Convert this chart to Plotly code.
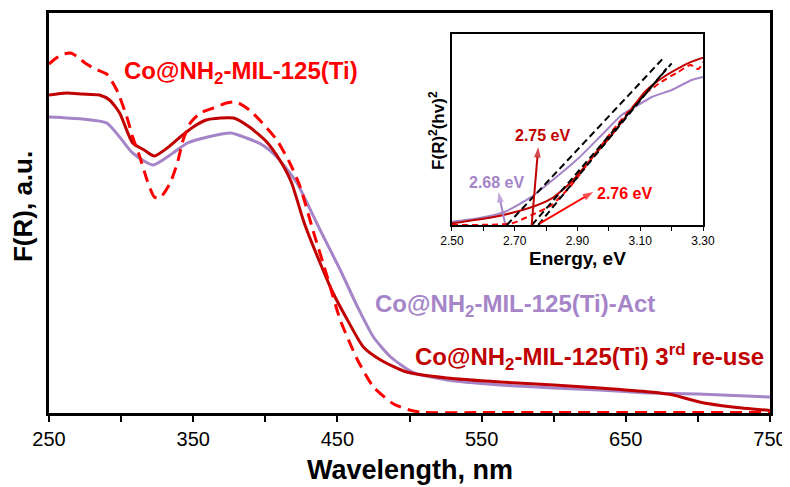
import plotly.graph_objects as go

# ---------------- main spectra (F(R), arbitrary units) ----------------
wl_co = [250, 255, 260, 265, 270, 275, 282, 290, 297, 304, 308, 313, 318, 323, 327,
         334, 339, 343, 348, 355, 364, 373, 380, 389, 398, 408, 417, 424, 433, 443,
         452, 464, 475, 489, 500, 510, 550, 600, 650, 700, 750]
fr_co = [347, 353, 357, 358, 354, 348, 342, 337, 321, 294, 274, 254, 231, 214, 213,
         228, 248, 271, 288, 298, 303, 308, 309, 301, 288, 271, 248, 225, 181, 134,
         91, 51, 24, 7, 1, -1.5, -1.5, -1.5, -1.5, -1.5, -1.5]

wl_reuse = [250, 262, 273, 285, 292, 299, 308, 316, 323, 332, 341, 350, 359, 369, 378,
            389, 401, 410, 418, 427, 438, 447, 457, 468, 480, 498, 526, 563, 600, 632,
            667, 683, 701, 724, 750]
fr_reuse = [316, 318, 317, 316, 311, 298, 268, 261, 255, 263, 274, 284, 291, 293, 293,
            284, 269, 251, 229, 188, 148, 118, 91, 64, 51, 39, 33, 29, 26, 23,
            19, 16, 9, 4, 0.5]

wl_act = [250, 273, 290, 299, 308, 322, 336, 346, 360, 376, 387, 398, 408, 417, 422,
          429, 438, 452, 464, 475, 487, 502, 526, 563, 600, 632, 667, 700, 750]
fr_act = [294, 292, 288, 274, 258, 246, 258, 268, 274, 278, 273, 266, 254, 238, 228,
          208, 181, 141, 104, 74, 54, 39, 31, 26, 23, 21, 18, 17, 14]

# ---------------- inset: Tauc plot ----------------
e_act = [2.50, 2.584, 2.669, 2.754, 2.828, 2.903, 2.977, 3.041, 3.083, 3.137, 3.200, 3.264, 3.30]
t_act = [3.3, 6.7, 13.3, 28.3, 46.7, 66.7, 90, 110, 118, 128, 135, 145, 148]

e_reuse = [2.50, 2.637, 2.743, 2.818, 2.881, 2.945, 3.009, 3.062, 3.115, 3.168, 3.221, 3.264, 3.30]
t_reuse = [1.7, 8.3, 16.7, 26.7, 43.3, 66.7, 90, 111.7, 133.3, 146.7, 156.7, 163.3, 167.3]

e_co = [2.50, 2.69, 2.754, 2.818, 2.881, 2.945, 3.009, 3.062, 3.115, 3.168, 3.221, 3.260, 3.285, 3.30]
t_co = [0, 1.7, 10, 20, 40, 66.7, 93.3, 113.3, 131, 143.3, 153, 160, 156, 163]

# tangent (band-gap) lines: x-intercept and upper end
tan_e0 = [2.675, 2.755, 2.775]
tan_e1 = [3.173, 3.200, 3.184]
tan_t1 = [166.7, 161.7, 156.7]

# band gap labels: text, text pos, arrow head, arrow tail
gap_text = ["2.68 eV", "2.75 eV", "2.76 eV"]
gap_text_e = [2.643, 2.790, 3.051]
gap_text_t = [43, 90, 32]
gap_head_e = [2.648, 2.775, 2.950]
gap_head_t = [33, 78, 33]
gap_tail_e = [2.669, 2.754, 2.780]
gap_tail_t = [1.7, 0, 1.7]

RED = "#FF0000"
DARKRED = "#C00000"
PURPLE = "#A585C8"
FONT = "Liberation Sans, Arial, sans-serif"

fig = go.Figure()

# main curves
fig.add_trace(go.Scatter(x=wl_act, y=fr_act, mode="lines", line=dict(color=PURPLE, width=3, shape="spline", smoothing=0.6),
                         showlegend=False, xaxis="x", yaxis="y"))
fig.add_trace(go.Scatter(x=wl_reuse, y=fr_reuse, mode="lines", line=dict(color=DARKRED, width=3, shape="spline", smoothing=0.6),
                         showlegend=False, xaxis="x", yaxis="y"))
fig.add_trace(go.Scatter(x=wl_co, y=fr_co, mode="lines", line=dict(color=RED, width=3, dash="12px,7px", shape="spline", smoothing=0.6),
                         showlegend=False, xaxis="x", yaxis="y"))

# inset curves
fig.add_trace(go.Scatter(x=e_act, y=t_act, mode="lines", line=dict(color=PURPLE, width=2, shape="spline", smoothing=0.6),
                         showlegend=False, xaxis="x2", yaxis="y2"))
fig.add_trace(go.Scatter(x=e_reuse, y=t_reuse, mode="lines", line=dict(color=DARKRED, width=2, shape="spline", smoothing=0.6),
                         showlegend=False, xaxis="x2", yaxis="y2"))
fig.add_trace(go.Scatter(x=e_co, y=t_co, mode="lines", line=dict(color=RED, width=2, dash="6px,4px", shape="spline", smoothing=0.6),
                         showlegend=False, xaxis="x2", yaxis="y2"))
for e0, e1, t1 in zip(tan_e0, tan_e1, tan_t1):
    fig.add_trace(go.Scatter(x=[e0, e1], y=[0, t1], mode="lines", line=dict(color="black", width=2, dash="7px,4px"),
                             showlegend=False, xaxis="x2", yaxis="y2"))

gap_colors = [PURPLE, DARKRED, RED]
# arrows: line with an arrow marker at the head
for he, ht, ae, at, c in zip(gap_head_e, gap_head_t, gap_tail_e, gap_tail_t, gap_colors):
    fig.add_trace(go.Scatter(x=[ae, he], y=[at, ht], mode="lines+markers",
                             line=dict(color=c, width=2),
                             marker=dict(symbol="arrow", angleref="previous", size=[0, 11], color=c,
                                         line=dict(width=0)),
                             showlegend=False, xaxis="x2", yaxis="y2", cliponaxis=False))

annotations = [
    dict(text="<b>Co@NH<sub>2</sub>-MIL-125(Ti)</b>", x=300.6, y=339, xref="x", yref="y", xanchor="left", yanchor="middle",
         showarrow=False, font=dict(family=FONT, size=24, color=RED)),
    dict(text="<b>Co@NH<sub>2</sub>-MIL-125(Ti)-Act</b>", x=474.7, y=106, xref="x", yref="y", xanchor="left", yanchor="middle",
         showarrow=False, font=dict(family=FONT, size=24, color=PURPLE)),
    dict(text="<b>Co@NH<sub>2</sub>-MIL-125(Ti) 3<sup>rd</sup> re-use</b>", x=502.4, y=54, xref="x", yref="y", xanchor="left",
         yanchor="middle", showarrow=False, font=dict(family=FONT, size=24, color=DARKRED)),
    dict(text="<b>F(R)<sup>2</sup>(hv)<sup>2</sup></b>", x=0.538, y=0.7075, xref="paper", yref="paper", textangle=-90,
         xanchor="center", yanchor="middle",
         showarrow=False, font=dict(family=FONT, size=17, color="black")),
    dict(text="<b>F(R), a.u.</b>", x=-0.036, y=0.515, xref="paper", yref="paper", textangle=-90,
         xanchor="center", yanchor="middle",
         showarrow=False, font=dict(family=FONT, size=26, color="black")),
    dict(text="<b>Wavelength, nm</b>", x=0.5007, y=-0.1425, xref="paper", yref="paper", xanchor="center", yanchor="middle",
         showarrow=False, font=dict(family=FONT, size=27, color="black")),
    dict(text="<b>Energy, eV</b>", x=0.733, y=(413 - 258) / 400, xref="paper", yref="paper", xanchor="center", yanchor="middle",
         showarrow=False, font=dict(family=FONT, size=19, color="black")),
]
for txt, te, tt, c in zip(gap_text, gap_text_e, gap_text_t, gap_colors):
    annotations.append(dict(text="<b>" + txt + "</b>", x=te, y=tt, xref="x2", yref="y2", showarrow=False,
                            xanchor="center", yanchor="middle",
                            font=dict(family=FONT, size=16, color=c)))

# the page body adds an 8 px offset, so the figure is 8 px smaller and margins shifted
fig.update_layout(
    width=782, height=479,
    margin=dict(l=41, r=20, t=5, b=74, autoexpand=False),
    paper_bgcolor="white", plot_bgcolor="white",
    font=dict(family=FONT, color="black"),
    annotations=annotations,
    xaxis=dict(domain=[0, 1], range=[250, 750], tick0=250, dtick=100,
               ticks="outside", ticklen=6, tickwidth=2, tickcolor="black",
               minor=dict(dtick=50, tick0=250, ticks="outside", ticklen=6, tickwidth=2, tickcolor="black", showgrid=False),
               showline=True, linewidth=3, linecolor="black", mirror=True, showgrid=False, zeroline=False,
               automargin=False,
               tickfont=dict(family=FONT, size=20, color="black")),
    yaxis=dict(domain=[0, 1], range=[-2, 398], showticklabels=False, ticks="",
               showline=True, linewidth=3, linecolor="black", mirror=True, showgrid=False, zeroline=False,
               automargin=False),
    xaxis2=dict(domain=[0.5589, 0.9071], anchor="y2", range=[2.5, 3.3], tick0=2.5, dtick=0.2, tickformat=".2f",
                ticks="outside", ticklen=4, tickwidth=1, tickcolor="black",
                minor=dict(dtick=0.1, tick0=2.5, ticks="outside", ticklen=4, tickwidth=1, tickcolor="black", showgrid=False),
                showline=True, linewidth=1.5, linecolor="black", mirror=True, showgrid=False, zeroline=False,
                automargin=False,
                tickfont=dict(family=FONT, size=12, color="black")),
    yaxis2=dict(domain=[0.47, 0.9475], anchor="x2", range=[0, 191], showticklabels=False, ticks="",
                showline=True, linewidth=1.5, linecolor="black", mirror=True, showgrid=False, zeroline=False,
                automargin=False),
)

fig.write_html("out.html")
